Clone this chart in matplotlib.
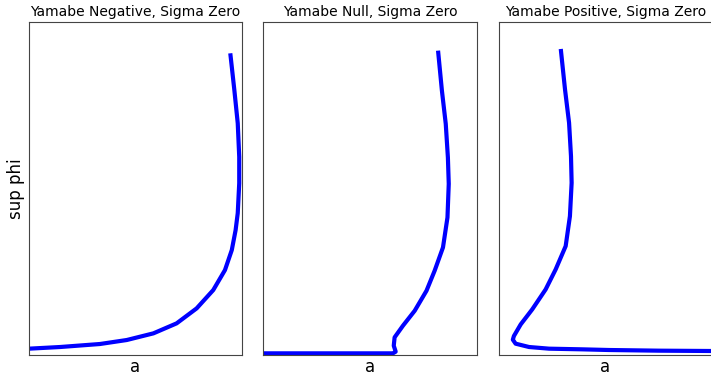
import matplotlib
matplotlib.use("Agg")
import matplotlib.pyplot as plt

# curves, in axes units (0..1)
titles = ["Yamabe Negative, Sigma Zero", "Yamabe Null, Sigma Zero", "Yamabe Positive, Sigma Zero"]

neg_a = [0.945, 0.964, 0.980, 0.987, 0.987, 0.980, 0.970, 0.952, 0.920, 0.865, 0.787,
         0.693, 0.584, 0.459, 0.333, 0.146, 0.0]
neg_phi = [0.906, 0.796, 0.696, 0.595, 0.516, 0.426, 0.375, 0.315, 0.255, 0.195, 0.140,
           0.095, 0.065, 0.045, 0.033, 0.024, 0.019]

null_a = [0.818, 0.836, 0.854, 0.864, 0.868, 0.862, 0.841, 0.802, 0.764, 0.709, 0.654,
          0.615, 0.611, 0.620, 0.607, 0.545, 0.0]
null_phi = [0.914, 0.794, 0.694, 0.593, 0.514, 0.413, 0.323, 0.253, 0.193, 0.133, 0.088,
            0.053, 0.028, 0.010, 0.005, 0.005, 0.005]

pos_a = [0.290, 0.310, 0.329, 0.338, 0.341, 0.333, 0.313, 0.266, 0.219, 0.156, 0.102,
         0.070, 0.065, 0.078, 0.141, 0.235, 0.391, 0.516, 0.750, 1.0]
pos_phi = [0.919, 0.797, 0.697, 0.597, 0.517, 0.417, 0.327, 0.257, 0.197, 0.137, 0.092,
           0.057, 0.046, 0.034, 0.024, 0.019, 0.017, 0.015, 0.013, 0.012]

curves = [(neg_a, neg_phi), (null_a, null_phi), (pos_a, pos_phi)]

fig = plt.figure(figsize=(7.11, 3.72), dpi=100)
W, H = 711.0, 372.0
boxes = [(29, 22, 213, 333), (263, 22, 214, 333), (499, 22, 213, 333)]

for i, (x0, y0, w, h) in enumerate(boxes):
    ax = fig.add_axes([x0 / W, 1 - (y0 + h) / H, w / W, h / H])
    xs, ys = curves[i]
    ax.plot(xs, ys, color="blue", linewidth=3, solid_joinstyle="round",
            solid_capstyle="butt")
    ax.set_xlim(0, 1)
    ax.set_ylim(0, 1)
    ax.set_xticks([])
    ax.set_yticks([])
    for s in ax.spines.values():
        s.set_color("#444444")
    ax.set_title(titles[i], fontsize=10, pad=4)
    ax.set_xlabel("a", fontsize=12, labelpad=2)
    if i == 0:
        ax.set_ylabel("sup phi", fontsize=12, labelpad=3)

fig.savefig("out.png", dpi=100)
